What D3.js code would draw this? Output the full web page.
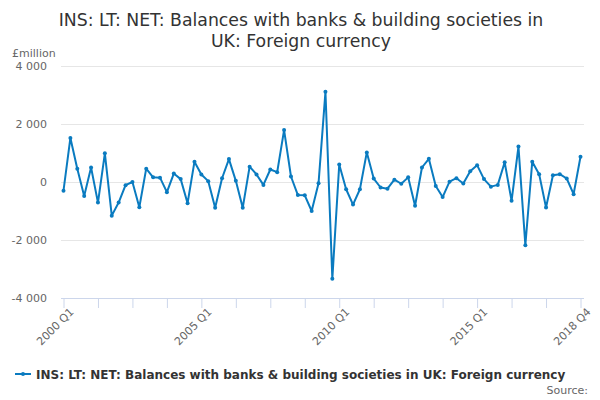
<!DOCTYPE html>
<html>
<head>
<meta charset="utf-8">
<script src="https://cdn.jsdelivr.net/npm/d3@7"></script>
<style>
  body { margin: 0; background: #fff; }
  text { font-family: "DejaVu Sans", sans-serif; }
</style>
</head>
<body>
<div id="root"></div>
<script>
// quarterly series, 2000 Q1 .. 2018 Q4 (£million)
const years = d3.range(2000, 2019)
const quarters = years.flatMap(y => ["Q1", "Q2", "Q3", "Q4"].map(q => `${y} ${q}`))
const values = [
  -300, 1520, 460, -480, 500, -710, 990, -1160,
  -710, -110, 0, -870, 460, 160, 150, -350,
  290, 100, -730, 700, 260, 30, -890, 130,
  790, 40, -890, 530, 260, -100, 430, 340,
  1790, 190, -450, -460, -1000, -40, 3110, -3340,
  600, -250, -780, -250, 1020, 120, -190, -230,
  80, -60, 160, -820, 500, 800, -140, -520,
  10, 130, -50, 370, 580, 100, -160, -100,
  680, -650, 1220, -2180, 700, 270, -880, 230,
  270, 120, -420, 870
]
const yTicks = [-4000, -2000, 0, 2000, 4000]
const tickIdx = [0, 5, 10, 15, 20, 25, 30, 35, 40, 45, 50, 55, 60, 65, 70, 75]
const labelIdx = [0, 20, 40, 60, 75]
const titleLines = ["INS: LT: NET: Balances with banks & building societies in", "UK: Foreign currency"]
const seriesName = "INS: LT: NET: Balances with banks & building societies in UK: Foreign currency"

const wrapper = { width: 600, height: 400 }
const plot = { left: 61, right: 584, top: 66, bottom: 298 }
const lineColor = "#0a7bc0"

const svg = d3.select("#root").append("svg")
  .attr("width", wrapper.width)
  .attr("height", wrapper.height)

const xScale = d3.scaleLinear().domain([0, values.length - 1]).range([63.5, 580.5])
const yScale = d3.scaleLinear().domain([-4000, 4000]).range([plot.bottom, plot.top])

const fmt = d3.formatLocale({ decimal: ".", thousands: " ", grouping: [3], currency: ["", ""], minus: "-" }).format(",")

// title
svg.append("text")
  .attr("x", 300).attr("y", 26)
  .attr("text-anchor", "middle")
  .attr("fill", "#333").style("font-size", "17.3px")
  .selectAll("tspan").data(titleLines).join("tspan")
  .attr("x", 301).attr("dy", (d, i) => i ? 21 : 0)
  .text(d => d)

svg.append("text")
  .attr("x", 12).attr("y", 57)
  .attr("fill", "#666").style("font-size", "11px")
  .text("£million")

// grid + y labels
const yAxis = svg.append("g")
  .attr("transform", `translate(${plot.left},0)`)
  .call(d3.axisLeft(yScale).tickValues(yTicks).tickFormat(fmt)
    .tickSize(-(plot.right - plot.left)).tickPadding(14))
yAxis.select(".domain").remove()
yAxis.selectAll(".tick line").attr("stroke", "#e6e6e6")
yAxis.selectAll(".tick text").attr("fill", "#666").style("font-size", "11px")

// x axis
const xAxis = svg.append("g")
  .attr("transform", `translate(0,${plot.bottom})`)
  .call(d3.axisBottom(xScale).tickValues(tickIdx).tickSize(10).tickSizeOuter(0)
    .tickFormat(i => labelIdx.includes(i) ? quarters[i] : ""))
xAxis.select(".domain").attr("d", `M${plot.left},0.5H${plot.right}`).attr("stroke", "#ccd6eb")
xAxis.selectAll(".tick line").attr("stroke", "#ccd6eb")
xAxis.selectAll(".tick text")
  .attr("fill", "#666").style("font-size", "11px")
  .attr("text-anchor", "end")
  .attr("transform", "translate(5,9) rotate(-45)")
  .attr("dy", "0.35em").attr("y", 4).attr("x", 0)

// series
const line = d3.line().x((d, i) => xScale(i)).y(d => yScale(d))
svg.append("path")
  .datum(values)
  .attr("d", line)
  .attr("fill", "none")
  .attr("stroke", lineColor)
  .attr("stroke-width", 2)
  .attr("stroke-linejoin", "round")

svg.append("g").selectAll("circle")
  .data(values).join("circle")
  .attr("cx", (d, i) => xScale(i))
  .attr("cy", d => yScale(d))
  .attr("r", 2)
  .attr("fill", lineColor)

// legend
const legend = svg.append("g").attr("transform", "translate(15,374)")
legend.append("line").attr("x1", 0).attr("x2", 16).attr("stroke", lineColor).attr("stroke-width", 2)
legend.append("circle").attr("cx", 8).attr("r", 2).attr("fill", lineColor)
legend.append("text")
  .attr("x", 21).attr("y", 4.5)
  .attr("fill", "#333").style("font-size", "12px").style("font-weight", "bold")
  .text(seriesName)

svg.append("text")
  .attr("x", 588).attr("y", 394)
  .attr("text-anchor", "end")
  .attr("fill", "#666").style("font-size", "11px")
  .text("Source:")
</script>
</body>
</html>
